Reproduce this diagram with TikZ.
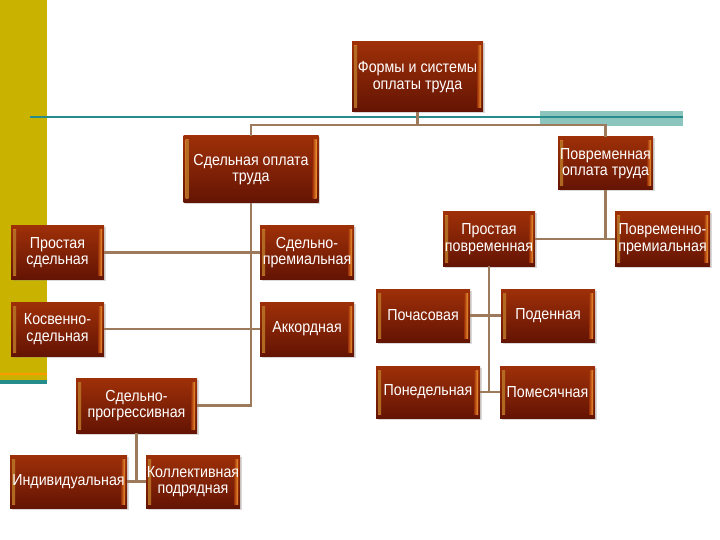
\documentclass[tikz,border=0pt]{standalone}
\usepackage{fontspec}
\newfontfamily\boxfont[FakeStretch=0.89]{Liberation Sans}
\usetikzlibrary{shadows}
\definecolor{boxtop}{RGB}{158,48,8}
\definecolor{boxbot}{RGB}{100,20,4}
\definecolor{boxedge}{RGB}{240,150,50}
\definecolor{linkcol}{RGB}{158,122,92}
\definecolor{barcol}{RGB}{201,179,0}
\definecolor{tealcol}{RGB}{38,140,140}
\definecolor{tealpale}{RGB}{140,196,190}

\begin{document}
\begin{tikzpicture}[x=1pt,y=-1pt,
  form/.style={rectangle,top color=boxtop,bottom color=boxbot,text=white,
    font=\boxfont\fontsize{16}{16.5}\selectfont,align=center,inner sep=0pt,
    minimum width=94pt,minimum height=53pt,
    drop shadow={opacity=.3,shadow xshift=1.5pt,shadow yshift=-1.5pt},
    path picture={
      \fill[left color=boxedge,right color=boxtop,opacity=.7]
        ([xshift=2pt,yshift=-4pt]path picture bounding box.north west)
        rectangle ([xshift=5pt,yshift=4pt]path picture bounding box.south west);
      \fill[right color=boxedge,left color=boxtop]
        ([xshift=-6pt,yshift=-4pt]path picture bounding box.north east)
        rectangle ([xshift=-2pt,yshift=4pt]path picture bounding box.south east);
    }},
  link/.style={draw=linkcol,line width=2.5pt}
]
\useasboundingbox (0,0) rectangle (720,540);
% slide decoration
\fill[barcol] (0,0) rectangle (47,380);
\draw[orange!80!yellow,line width=1.2pt] (0,374) -- (47,374);
\fill[tealcol] (0,380) rectangle (47,384);
\fill[tealpale] (540,111) rectangle (683,126);
\draw[tealcol,line width=2.2pt] (30,117) -- (683,117);

% connectors
\coordinate (bus) at (417.5,125);

\node[form,minimum width=131pt,minimum height=70pt] (formy) at (417.5,77) {Формы и системы\\оплаты труда};
\node[form,minimum width=135pt,minimum height=67pt] (sdel) at (251,169.5) {Сдельная оплата\\труда};
\node[form,minimum width=95pt] (povr) at (605.5,163.5) {Повременная\\оплата труда};

\node[form,minimum width=93pt] (prsd) at (57.5,252.5) {Простая\\сдельная};
\node[form] (sdprem) at (307,252.5) {Сдельно-\\премиальная};
\node[form,minimum width=93pt,minimum height=54pt] (kosv) at (57.5,329) {Косвенно-\\сдельная};
\node[form,minimum height=54pt] (akk) at (307,329) {Аккордная};
\node[form,minimum width=121pt,minimum height=55pt] (sdprog) at (136.5,405.5) {Сдельно-\\прогрессивная};
\node[form,minimum width=117pt] (indiv) at (68.5,481.5) {Индивидуальная};
\node[form] (koll) at (193,481.5) {Коллективная\\подрядная};

\node[form,minimum width=92pt,minimum height=54pt] (prpovr) at (489,239) {Простая\\повременная};
\node[form,minimum width=95pt,minimum height=54pt] (povrprem) at (662.5,239) {Повременно-\\премиальная};
\node[form] (pochas) at (423,315.5) {Почасовая};
\node[form] (poden) at (548,315.5) {Поденная};
\node[form,minimum width=104pt,minimum height=52pt] (poned) at (428,392) {Понедельная};
\node[form,minimum width=95pt,minimum height=52pt] (pomes) at (547.5,392) {Помесячная};

\draw[link] (formy.south) -- (bus);
\draw[link] (sdel.north) |- (bus) -| (povr.north);
\draw[link] (sdel.south) |- (sdprog.east);
\draw[link] (prsd.east) -- (sdprem.west);
\draw[link] (kosv.east) -- (akk.west);
\draw[link] (sdprog.south) -- (sdprog.south |- indiv.east);
\draw[link] (indiv.east) -- (koll.west);
\draw[link] (povr.south) -- (povr.south |- prpovr.east);
\draw[link] (prpovr.east) -- (povrprem.west);
\draw[link] (prpovr.south) |- (poned.east);
\draw[link] (pochas.east) -- (poden.west);
\draw[link] (poned.east) -- (pomes.west);
\end{tikzpicture}
\end{document}
